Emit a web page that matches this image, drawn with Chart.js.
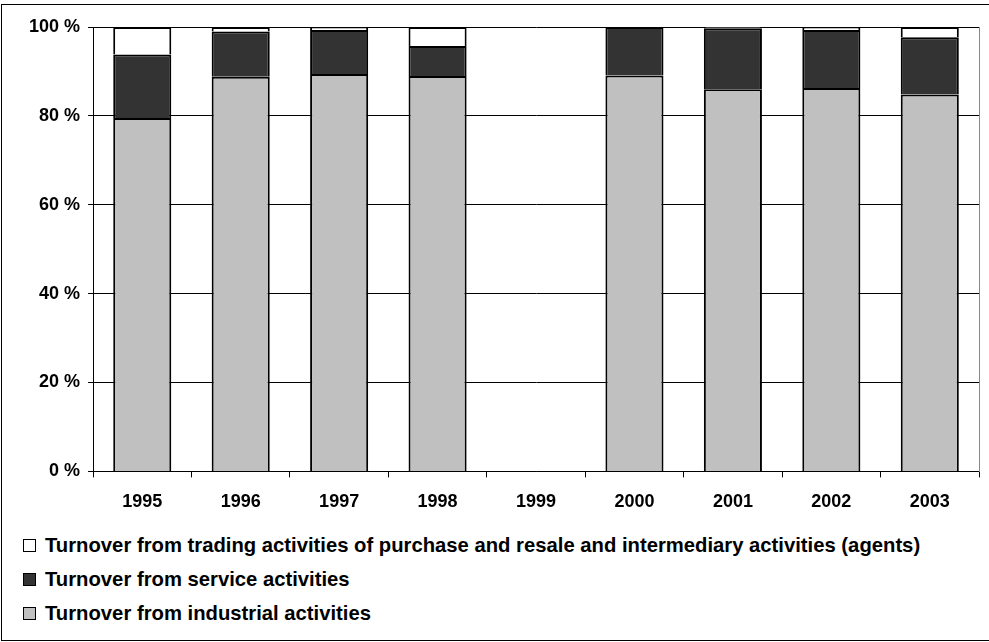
<!DOCTYPE html>
<html>
<head>
<meta charset="utf-8">
<script src="https://cdn.jsdelivr.net/npm/chart.js@4.4.0/dist/chart.umd.min.js"></script>
<style>
  body { margin: 0; background: #fff; font-family: "Liberation Sans", Arial, sans-serif; }
  #wrap { position: relative; width: 989px; height: 642px; overflow: hidden; }
  #frame { position: absolute; left: 1px; top: 4px; width: 1000px; height: 635px; border: 1px solid #000; }
  #myChart { position: absolute; left: 0; top: 0; }
  #legend { position: absolute; left: 23px; top: 528px; }
  .item { display: flex; align-items: center; height: 34px; font-weight: bold; font-size: 20.25px; color: #000; }
  .box { width: 11px; height: 11px; border: 1px solid #000; margin-right: 9px; }
</style>
</head>
<body>
<div id="wrap">
  <div id="frame"></div>
  <canvas id="myChart" width="989" height="527"></canvas>
  <div id="legend"></div>
</div>
<script>
    let years = ["1995", "1996", "1997", "1998", "1999", "2000", "2001", "2002", "2003"];
    let industrial = [79.5, 88.8, 89.4, 89.0, null, 89.1, 86.0, 86.3, 84.8];
    let service = [14.3, 10.2, 9.9, 6.7, null, 10.9, 13.7, 13.0, 12.9];
    let trading = [6.2, 1.0, 0.7, 4.3, null, 0.0, 0.3, 0.7, 2.3];
    let names = [
      "Turnover from industrial activities",
      "Turnover from service activities",
      "Turnover from trading activities of purchase and resale and intermediary activities (agents)"
    ];
    let barColors = ["#c0c0c0", "#333333", "#ffffff"];

    let font = { family: "'Liberation Sans', Arial, sans-serif", size: 18, weight: "bold" };

    let chart = new Chart("myChart", {
      type: "bar",
      data: {
        labels: years,
        datasets: [industrial, service, trading].map(function (vals, i) {
          return {
            label: names[i],
            data: vals,
            backgroundColor: barColors[i],
            borderColor: "#000",
            borderWidth: 2,
            barPercentage: 0.59,
            categoryPercentage: 1
          };
        })
      },
      options: {
        responsive: false,
        animation: false,
        layout: { padding: { top: 27, left: 21, right: 10, bottom: 0 } },
        plugins: {
          legend: { display: false },
          tooltip: { enabled: false }
        },
        scales: {
          x: {
            stacked: true,
            grid: { drawOnChartArea: false, color: "#000", tickLength: 6 },
            border: { color: "#000" },
            ticks: { color: "#000", font: font, padding: 14 }
          },
          y: {
            stacked: true,
            min: 0,
            max: 100,
            ticks: {
              stepSize: 20,
              color: "#000",
              font: font,
              padding: 8,
              callback: function (v) { return v + " %"; }
            },
            grid: { color: "#000", tickLength: 5 },
            border: { color: "#000" }
          },
          yRight: {
            position: "right",
            min: 0,
            max: 100,
            ticks: { display: false },
            grid: { drawOnChartArea: false, drawTicks: false },
            border: { color: "#888" }
          }
        }
      }
    });

    // legend listed top to bottom, last series first
    let legend = document.getElementById("legend");
    chart.data.datasets.slice().reverse().forEach(function (ds) {
      let row = document.createElement("div");
      row.className = "item";
      let box = document.createElement("span");
      box.className = "box";
      box.style.background = ds.backgroundColor;
      row.appendChild(box);
      row.appendChild(document.createTextNode(ds.label));
      legend.appendChild(row);
    });
</script>
</body>
</html>
